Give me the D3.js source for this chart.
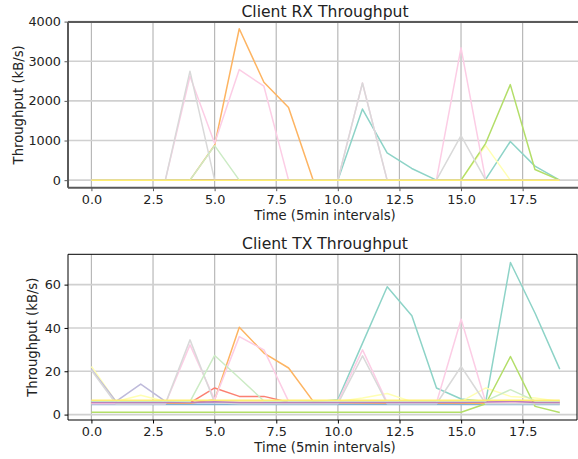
<!DOCTYPE html>
<meta charset="utf-8">
<style>
    body { margin: 0; background: white; }
    svg { display: block; background: white; }
    text { font-family: "DejaVu Sans", sans-serif; fill: #222; }
    .tick text { font-size: 12.8px; }
    .title { font-size: 15.6px; }
    .label { font-size: 13.2px; }
</style>
<svg width="578" height="459"></svg>
<script src="https://cdn.jsdelivr.net/npm/d3@7"></script>
<script>
    // time axis, 5 min intervals
    const times = d3.range(0, 20);
    const xTicks = [0, 2.5, 5, 7.5, 10, 12.5, 15, 17.5];

    // matplotlib Set3 cycle, one colour per client
    const colors = ['#8dd3c7', '#ffffb3', '#bebada', '#fb8072', '#80b1d3', '#fdb462',
                    '#b3de69', '#fccde5', '#d9d9d9', '#bc80bd', '#ccebc5', '#ffed6f'];

    const rxValues = [
        [0,0,0,0,0,0,0,0,0,0,0,1795,690,295,0,0,20,975,355,0],
        [0,0,0,0,0,0,0,0,0,0,0,0,0,0,0,0,870,0,0,0],
        [0,0,0,0,0,0,0,0,0,0,0,0,0,0,0,0,0,0,0,0],
        [0,0,0,0,0,0,0,0,0,0,0,0,0,0,0,0,0,0,0,0],
        [0,0,0,0,0,0,0,0,0,0,0,0,0,0,0,0,0,0,0,0],
        [0,0,0,0,0,880,3820,2470,1835,0,0,0,0,0,0,0,0,0,0,0],
        [0,0,0,0,0,0,0,0,0,0,0,0,0,0,0,0,930,2410,270,0],
        [0,0,0,0,2620,930,2790,2370,0,0,0,2450,0,0,0,3340,0,0,0,0],
        [0,0,0,0,2750,0,0,0,0,0,0,2450,0,0,0,1125,0,0,0,0],
        [0,0,0,0,0,0,0,0,0,0,0,0,0,0,0,0,0,0,0,0],
        [0,0,0,0,0,870,0,0,0,0,0,0,0,0,0,0,0,0,0,0],
        [0,0,0,0,0,0,0,0,0,0,0,0,0,0,0,0,0,0,0,0]
    ];

    const txValues = [
        [5.8,5.8,5.8,5.8,5.8,5.8,5.8,5.8,5.8,5.8,6.9,33,59,45.6,12.3,7.2,6.1,70.2,46.8,21],
        [22.2,6,8.9,6,6,6,6,6,6,6,6,7.7,9.7,6,6,6,12.3,8.4,7.7,6.1],
        [21,6.1,14.1,6.1,5.5,5.5,5.5,5.5,5.5,5.5,5.5,5.5,5.5,5.5,5.5,5.5,5.5,5.5,5.5,5.5],
        [5.4,5.4,5.4,5.4,5.4,12.3,8.4,8.4,5.7,5.7,5.7,5.7,5.7,5.7,5.7,5.7,5.7,5.7,5.7,5.7],
        [4.6,4.6,4.6,4.6,4.6,4.6,4.6,4.6,4.6,4.6,4.6,4.6,4.6,4.6,4.6,4.6,4.6,4.6,4.6,4.6],
        [5.2,5.2,5.2,5.2,5.2,6.9,40.3,28.4,21.5,6.1,5.5,5.3,5.2,5.2,5.2,5.2,5.2,5.2,5.2,5.2],
        [1.1,1.1,1.1,1.1,1.1,1.1,1.1,1.1,1.1,1.1,1.1,1.1,1.1,1.1,1.1,1.1,5,26.8,3.8,1],
        [5,5,5,5,32.2,6.9,36,29.9,6.1,5.5,6,29.9,5.5,5.5,5.5,44,5.5,5.5,5.5,5.5],
        [20.5,5,5,5,34.5,5.5,5,5,5,5,5,27.1,5,5,5,22.2,5,5,5,5],
        [5.6,5.6,5.6,5.6,5.6,5.9,5.6,5.6,5.6,5.6,5.6,5.6,5.6,5.6,5.6,5.6,5.8,6.1,5.6,5.6],
        [6.3,6.3,6.3,6.3,6,27.3,16.9,6.3,6.3,6.3,6.3,6.3,6.3,6.3,6.3,6.3,6.3,11.5,6.3,6.3],
        [6.6,6.6,6.6,6.6,6.6,6.6,6.6,6.6,6.6,6.6,6.6,6.6,6.6,6.6,6.6,6.6,6.6,6.6,6.6,6.6]
    ];

    const rxTicks = [0, 1000, 2000, 3000, 4000];
    const txTicks = [0, 20, 40, 60];

    var svg = d3.select("svg");

    function panel(opts) {
        var x = d3.scaleLinear().domain(opts.xDomain).range([opts.left, opts.right]);
        var y = d3.scaleLinear().domain(opts.yDomain).range([opts.bottom, opts.top]);
        var g = svg.append("g");

        // grid
        g.append("g").selectAll("line").data(xTicks).enter().append("line")
            .attr("x1", d => x(d)).attr("x2", d => x(d))
            .attr("y1", opts.top).attr("y2", opts.bottom)
            .attr("stroke", "#b8b8b8").attr("stroke-width", 1.2);
        g.append("g").selectAll("line").data(opts.yTicks).enter().append("line")
            .attr("x1", opts.left).attr("x2", opts.right)
            .attr("y1", d => y(d)).attr("y2", d => y(d))
            .attr("stroke", "#d0d0d0").attr("stroke-width", 1.6);

        var line = d3.line().x((d, i) => x(times[i])).y(d => y(d));
        g.append("g").selectAll("path").data(opts.values).enter().append("path")
            .attr("d", line)
            .attr("fill", "none")
            .attr("stroke", (d, i) => colors[i % colors.length])
            .attr("stroke-width", 1.5)
            .attr("stroke-linejoin", "round");

        // axes
        var xAxis = g.append("g").attr("transform", "translate(0," + opts.bottom + ")")
            .call(d3.axisBottom(x).tickValues(xTicks).tickFormat(d3.format(".1f")).tickSizeOuter(0).tickSize(3.5).tickPadding(3.5));
        var yAxis = g.append("g").attr("transform", "translate(" + opts.left + ",0)")
            .call(d3.axisLeft(y).tickValues(opts.yTicks).tickFormat(d3.format("d")).tickSizeOuter(0).tickSize(3.5).tickPadding(3.5));
        [xAxis, yAxis].forEach(a => {
            a.select(".domain").remove();
            a.selectAll(".tick line").attr("stroke", opts.spine);
            a.selectAll(".tick text").attr("fill", "#222");
        });

        // spines
        var sp = g.append("g").attr("stroke", opts.spine).attr("stroke-width", opts.spineWidth).attr("fill", "none");
        sp.append("line").attr("x1", opts.left).attr("x2", opts.right).attr("y1", opts.top).attr("y2", opts.top);
        sp.append("line").attr("x1", opts.left).attr("x2", opts.right).attr("y1", opts.bottom).attr("y2", opts.bottom);
        sp.append("line").attr("x1", opts.left).attr("x2", opts.left).attr("y1", opts.top).attr("y2", opts.bottom);
        sp.append("line").attr("x1", opts.right).attr("x2", opts.right).attr("y1", opts.top).attr("y2", opts.bottom);

        g.append("text").attr("class", "title")
            .attr("x", 325).attr("y", opts.top - 5)
            .attr("text-anchor", "middle").text(opts.title);
        g.append("text").attr("class", "label")
            .attr("x", 325).attr("y", opts.bottom + 32)
            .attr("text-anchor", "middle").text("Time (5min intervals)");
        g.append("text").attr("class", "label")
            .attr("transform", "translate(" + opts.yLabelX + "," + (opts.top + opts.bottom) / 2 + ") rotate(-90)")
            .attr("text-anchor", "middle").text("Throughput (kB/s)");
    }

    panel({
        values: rxValues, title: "Client RX Throughput",
        xDomain: [-0.95, 19.95], yDomain: [-190, 3990], yTicks: rxTicks,
        left: 68, right: 583, top: 22, bottom: 187.7,
        spine: "#5a5a5a", spineWidth: 2, yLabelX: 23
    });

    panel({
        values: txValues, title: "Client TX Throughput",
        xDomain: [-0.95, 19.7], yDomain: [-2.5, 74], yTicks: txTicks,
        left: 68, right: 577, top: 254.3, bottom: 420,
        spine: "#000", spineWidth: 1, yLabelX: 37
    });
</script>
